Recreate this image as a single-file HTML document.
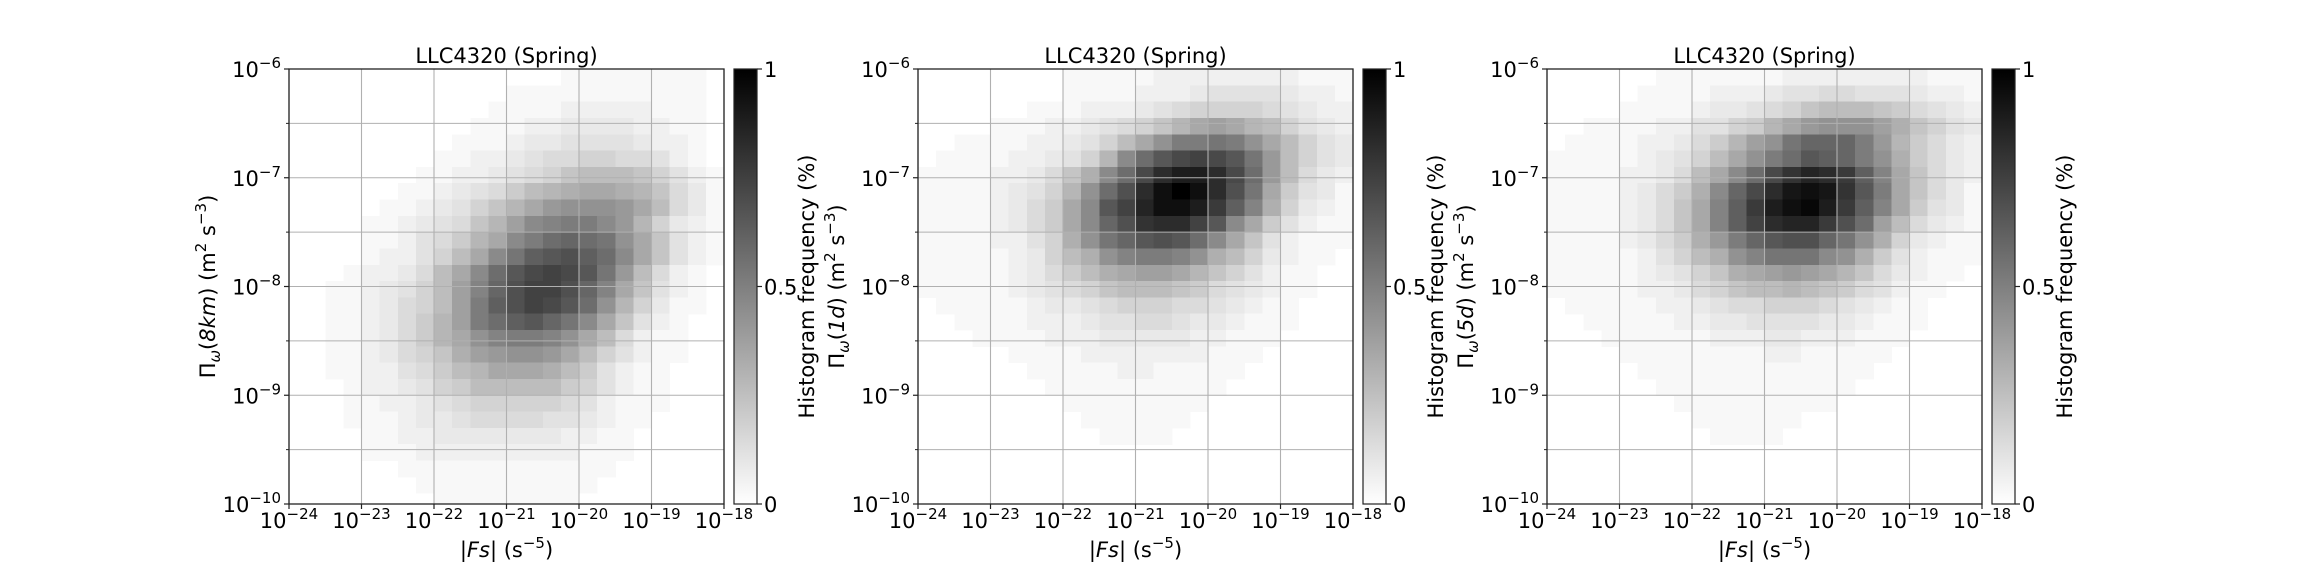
<!DOCTYPE html>
<html><head><meta charset="utf-8">
<style>
html,body{margin:0;padding:0;background:#fff;}
svg{display:block;font-family:"DejaVu Sans","Liberation Sans",sans-serif;}
</style></head>
<body>
<svg id="fig" width="2304" height="576" viewBox="0 0 2304 576" xmlns="http://www.w3.org/2000/svg">
<defs>
<linearGradient id="cbgrad" x1="0" y1="1" x2="0" y2="0">
<stop offset="0" stop-color="#ffffff"/><stop offset="1" stop-color="#000000"/>
</linearGradient>
</defs>
</svg>
<script>
// ---- data ----
const panelTitles = ["LLC4320 (Spring)", "LLC4320 (Spring)", "LLC4320 (Spring)"];
const panelYLabels = ["8km", "1d", "5d"];
const xTickExps = [-24, -23, -22, -21, -20, -19, -18];
const yTickExps = [-6, -7, -8, -9, -10];
const yMinorExps = [-6.5, -7.5, -8.5, -9.5];
const cbTicks = [0, 0.5, 1];
const cbTickLabels = ["0", "0.5", "1"];
const xBinStart = -24, xBinWidth = 0.25;
const yBinTop = -6, yBinHeight = 0.15;
// histogram rows (top -> bottom), columns low->high |Fs|; base-36 digit, value = d/35
const panel1Rows = [
"000000000000000111111110",
"000000000000111111111110",
"000000000001111222221110",
"000000000011122333322110",
"000000000111233444432210",
"000000001122345566554210",
"000000011223456899986421",
"00000011234579abccba8531",
"000001123468acefffec9531",
"00001123458adghiigea6321",
"0000112457acgiklkjfc8421",
"0000122469cgjmnomkgc8421",
"000122359cgknpqpnje95210",
"001123469dhloqqolhc84210",
"001123569dimoqpnkfa63110",
"00112357adikmnljgc842100",
"00112357acfhiihfc9521100",
"001123568bdeffec96421100",
"0011224579acccb974211000",
"000122346799999764211000",
"000112234566666542111000",
"000111233455554432110000",
"000011223333333221100000",
"000011122222222211100000",
"000000111111111111000000",
"000000011111111110000000",
"000000001111111100000000"
];
const panel2Rows = [
"000000001111122222222111",
"000000001111222344443221",
"000000111222345666654322",
"00001112234568acdca96432",
"001111223469cfiijifc9643",
"0111122346agknpqpnje9643",
"111122358bgkptvvtpke9532",
"11112346afkotxzxtojc7431",
"11112357cgnquxxvrmhb6321",
"11112357cglosttqngc74211",
"11112246bfjlnonkgc842111",
"111112369bfhiihfb9632110",
"1111123579bcddca86421100",
"111112345689998754321100",
"011111233456665543211000",
"001111222344554332111000",
"000111122233333221110000",
"000001111222222211100000",
"000000111112211111000000",
"000000011111111110000000",
"000000001111111100000000",
"000000000111111000000000",
"000000000011110000000000",
"000000000000000000000000",
"000000000000000000000000",
"000000000000000000000000",
"000000000000000000000000"
];
const panel3Rows = [
"000000111111122222222111",
"000001111222344554443221",
"000011112334568999875432",
"001111224467acefffdb8643",
"0111122357adfjllliea7532",
"1111123469cfiknmlifb7532",
"111122359cgkpsutrmhc8532",
"11112357bglptwxwsnic8531",
"11112358chmrvxyvrmhc7431",
"11112358chmqtuurokd95321",
"11112357beilnooljfb63211",
"111112469bfhjjjgfb742111",
"1111123468bcdedca8532110",
"1111122356899a9875421100",
"011111223455666543211000",
"001111122334444332111000",
"000111111222332221110000",
"000011111111221111100000",
"000001111111111111000000",
"000000111111111110000000",
"000000011111111100000000",
"000000001111110000000000",
"000000000111100000000000",
"000000000000000000000000",
"000000000000000000000000",
"000000000000000000000000",
"000000000000000000000000"
];
const panelRows = [panel1Rows, panel2Rows, panel3Rows];

// ---- layout ----
const NS = "http://www.w3.org/2000/svg";
const svg = document.getElementById("fig");
const panelLefts = [289, 918, 1547];
const AX_TOP = 69, AX_SIZE = 435;
const FS = 21, SUP = 15;

function mk(tag, attrs, parent) {
  const e = document.createElementNS(NS, tag);
  for (const k in attrs) e.setAttribute(k, attrs[k]);
  (parent || svg).appendChild(e);
  return e;
}
function supText(parent, base, exp, x, y, anchor) {
  const t = mk("text", {x: x, y: y, "font-size": FS, "text-anchor": anchor, fill: "#000"}, parent);
  t.appendChild(document.createTextNode(base));
  const s = mk("tspan", {dy: -9, "font-size": SUP}, t);
  s.textContent = exp;
  return t;
}

panelRows.forEach((rows, p) => {
  const L = panelLefts[p];
  const xs = lv => L + (lv - (-24)) / 6 * AX_SIZE;
  const ys = lv => AX_TOP + (-6 - lv) / 4 * AX_SIZE;

  const g = mk("g", {});
  
  

  const cp = mk("clipPath", {id: "clip" + p}, g);
  mk("rect", {x: L, y: AX_TOP, width: AX_SIZE, height: AX_SIZE}, cp);

  const hm = mk("g", {"clip-path": "url(#clip" + p + ")", "shape-rendering": "crispEdges"}, g);
  
  
  mk("rect", {x: L, y: AX_TOP, width: AX_SIZE, height: AX_SIZE, fill: "#fff"}, hm);
  rows.forEach((row, r) => {
    for (let c = 0; c < row.length; c++) {
      const v = parseInt(row[c], 36) / 35;
      if (v <= 0) continue;
      const gray = Math.round(255 * (1 - v));
      const x0 = xs(xBinStart + c * xBinWidth), x1 = xs(xBinStart + (c + 1) * xBinWidth);
      const y0 = ys(yBinTop - r * yBinHeight), y1 = ys(yBinTop - (r + 1) * yBinHeight);
      const cell = mk("rect", {x: x0, y: y0, width: x1 - x0 + 0.6, height: y1 - y0 + 0.6,
        fill: "rgb(" + gray + "," + gray + "," + gray + ")"}, hm);
      
      
    }
  });

  xTickExps.forEach(e => {
    const gl = mk("line", {x1: xs(e), x2: xs(e), y1: AX_TOP, y2: AX_TOP + AX_SIZE, stroke: "#b0b0b0", "stroke-width": 1.1}, g);
    
    
  });
  yTickExps.concat(yMinorExps).forEach(e => {
    const gl = mk("line", {x1: L, x2: L + AX_SIZE, y1: ys(e), y2: ys(e), stroke: "#b0b0b0", "stroke-width": 1.1}, g);
    
    
  });
  const fr = mk("rect", {x: L, y: AX_TOP, width: AX_SIZE, height: AX_SIZE, fill: "none", stroke: "#222", "stroke-width": 1.3}, g);
  
  

  xTickExps.forEach(e => {
    mk("line", {x1: xs(e), x2: xs(e), y1: AX_TOP + AX_SIZE, y2: AX_TOP + AX_SIZE + 5, stroke: "#222", "stroke-width": 1.2}, g);
    const t = supText(g, "10", "\u2212" + (-e), xs(e), 528, "middle");
    
    
  });
  yTickExps.forEach(e => {
    mk("line", {x1: L - 5, x2: L, y1: ys(e), y2: ys(e), stroke: "#222", "stroke-width": 1.2}, g);
    const t = supText(g, "10", "\u2212" + (-e), L - 8, ys(e) + 8, "end");
    
    
  });
  yMinorExps.forEach(e => {
    mk("line", {x1: L - 3, x2: L, y1: ys(e), y2: ys(e), stroke: "#222", "stroke-width": 1}, g);
  });

  const ti = mk("text", {x: L + AX_SIZE / 2, y: 63, "font-size": FS, "text-anchor": "middle"}, g);
  ti.textContent = panelTitles[p];
  
  

  const xl = mk("text", {x: L + AX_SIZE / 2, y: 557, "font-size": FS, "text-anchor": "middle"}, g);
  
  
  xl.appendChild(document.createTextNode("|"));
  const it = mk("tspan", {"font-style": "italic"}, xl); it.textContent = "Fs";
  xl.appendChild(document.createTextNode("| (s"));
  const s5 = mk("tspan", {dy: -9, "font-size": SUP}, xl); s5.textContent = "\u22125";
  const cl = mk("tspan", {dy: 9}, xl); cl.textContent = ")";

  const cx = L - 81, cy = AX_TOP + AX_SIZE / 2;
  const yl = mk("text", {x: cx, y: cy + 7, "font-size": FS, "text-anchor": "middle",
    transform: "rotate(-90 " + cx + " " + cy + ")"}, g);
  
  
  yl.appendChild(document.createTextNode("\u03A0"));
  const om = mk("tspan", {dy: 5, "font-size": SUP, "font-style": "italic"}, yl); om.textContent = "\u03C9";
  const op = mk("tspan", {dy: -5}, yl); op.textContent = "(";
  const lb = mk("tspan", {"font-style": "italic"}, yl); lb.textContent = panelYLabels[p];
  const rest = mk("tspan", {}, yl); rest.textContent = ") (m";
  const sq = mk("tspan", {dy: -9, "font-size": SUP}, yl); sq.textContent = "2";
  const ss = mk("tspan", {dy: 9}, yl); ss.textContent = " s";
  const s3 = mk("tspan", {dy: -9, "font-size": SUP}, yl); s3.textContent = "\u22123";
  const yc = mk("tspan", {dy: 9}, yl); yc.textContent = ")";

  const CBX = L + 445, CBW = 23;
  const cb = mk("g", {}, g);
  
  
  mk("rect", {x: CBX, y: AX_TOP, width: CBW, height: AX_SIZE, fill: "url(#cbgrad)", stroke: "#222", "stroke-width": 1.2}, cb);
  const cbY = v => AX_TOP + AX_SIZE * (1 - v);
  cbTicks.forEach((v, i) => {
    mk("line", {x1: CBX + CBW, x2: CBX + CBW + 5, y1: cbY(v), y2: cbY(v), stroke: "#222", "stroke-width": 1.2}, cb);
    const t = mk("text", {x: CBX + CBW + 7, y: cbY(v) + 8, "font-size": FS}, cb);
    t.textContent = cbTickLabels[i];
    
    
  });
  const ccx = CBX + 73;
  const ct = mk("text", {x: ccx, y: cy + 7, "font-size": FS, "text-anchor": "middle",
    transform: "rotate(-90 " + ccx + " " + cy + ")"}, cb);
  ct.textContent = "Histogram frequency (%)";
  
  
});
</script>
</body></html>
